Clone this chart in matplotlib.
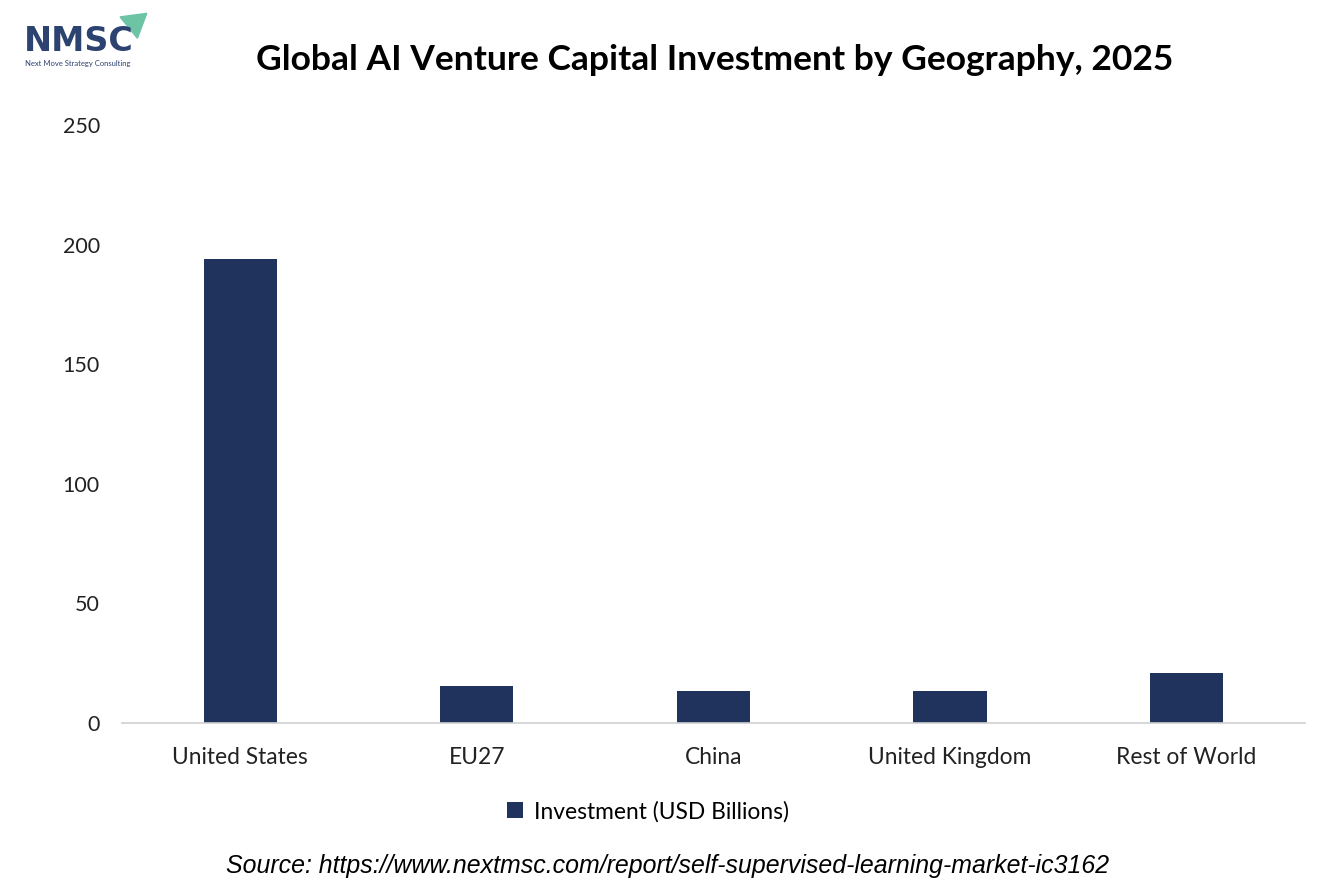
import matplotlib.pyplot as plt
from matplotlib.patches import Polygon

# data
regions = ['United States', 'EU27', 'China', 'United Kingdom', 'Rest of World']
investment = [194.0, 15.6, 13.5, 13.5, 21.0]
series_name = 'Investment (USD Billions)'
y_ticks = [0, 50, 100, 150, 200, 250]

bar_color = '#1f335c'
font = ['Lato', 'DejaVu Sans']

fig = plt.figure(figsize=(13.34, 8.89), dpi=100)
ax = fig.add_axes([0.0915, 0.1867, 0.8865, 0.6727])

x = range(len(regions))
ax.bar(x, investment, width=0.31, color=bar_color, label=series_name)
ax.set_xlim(-0.5, len(regions) - 0.5)
ax.set_ylim(0, 250)
ax.set_yticks(y_ticks)
ax.set_xticks(list(x))
ax.set_xticklabels(regions, fontsize=16.4, family=font, color='#222222')
for lab in ax.get_yticklabels():
    lab.set_fontsize(15.5)
    lab.set_family(font)
    lab.set_color('#222222')

for side in ['top', 'right', 'left']:
    ax.spines[side].set_visible(False)
ax.spines['bottom'].set_color('#d0d0d0')
ax.spines['bottom'].set_linewidth(1.2)
ax.tick_params(axis='both', length=0)
ax.tick_params(axis='x', pad=17)
ax.tick_params(axis='y', pad=16)

fig.text(0.536, 0.933, 'Global AI Venture Capital Investment by Geography, 2025',
         ha='center', va='center', fontsize=25.5, fontweight='bold',
         family=font, color='black')

leg = ax.legend(loc='center', bbox_to_anchor=(0.445, -0.148), frameon=False,
                prop={'family': font, 'size': 16.4}, handlelength=0.7,
                handleheight=0.7, handletextpad=0.5)

fig.text(0.5007, 0.026, 'Source: https://www.nextmsc.com/report/self-supervised-learning-market-ic3162',
         ha='center', va='center', fontsize=17.9, style='italic',
         family=['Liberation Sans', 'DejaVu Sans'], color='black')

# logo
fig.text(0.018, 0.953, 'NMSC', ha='left', va='center', fontsize=24,
         fontweight='bold', family=['DejaVu Sans'], color='#2c4271')
fig.text(0.019, 0.929, 'Next Move Strategy Consulting', ha='left', va='center',
         fontsize=5.5, family=font, color='#2c4271')
tri = Polygon([[0.090, 0.981], [0.110, 0.985], [0.103, 0.957]],
              closed=True, transform=fig.transFigure, color='#6cc4a4')
fig.patches.append(tri)

fig.savefig('out.png', dpi=100)
